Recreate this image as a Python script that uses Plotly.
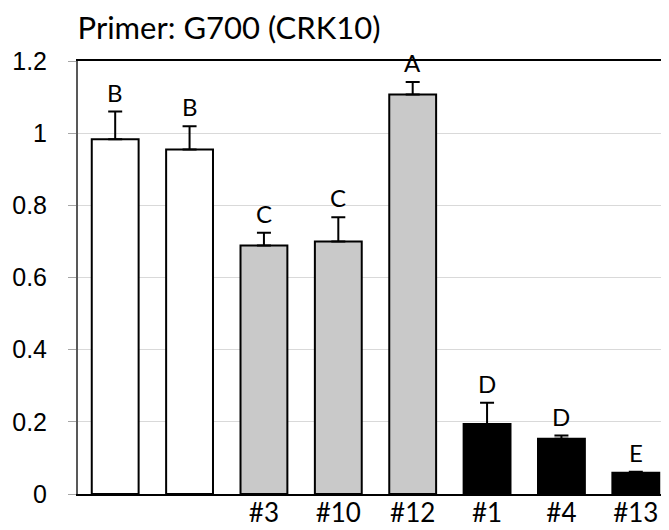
import plotly.graph_objects as go

# ---- data ----
labels = ["", "", "#3", "#10", "#12", "#1", "#4", "#13"]
values = [0.983, 0.955, 0.689, 0.700, 1.107, 0.194, 0.153, 0.059]
errors = [0.077, 0.064, 0.035, 0.067, 0.035, 0.059, 0.009, 0.003]
letters = ["B", "B", "C", "C", "A", "D", "D", "E"]
colors = ["#ffffff", "#ffffff", "#c9c9c9", "#c9c9c9", "#c9c9c9", "#000000", "#000000", "#000000"]
yticks = [0, 0.2, 0.4, 0.6, 0.8, 1.0, 1.2]
yticktext = ["0", "0.2", "0.4", "0.6", "0.8", "1", "1.2"]
title_text = "Primer: G700 (CRK10)"

xs = list(range(len(labels)))

fig = go.Figure()
fig.add_trace(go.Bar(
    x=xs, y=values,
    marker=dict(color=colors, line=dict(color="#000000", width=2)),
    error_y=dict(type="data", array=errors, arrayminus=[0] * len(errors),
                 symmetric=False, color="#000000", thickness=2, width=7),
    width=0.63,
    showlegend=False,
))

for x, v, e, t in zip(xs, values, errors, letters):
    fig.add_annotation(x=x, y=v + e, text=t, showarrow=False,
                       yanchor="bottom", yshift=3,
                       font=dict(family="Lato", size=24, color="#000000"))

fig.update_layout(
    width=669, height=530,
    margin=dict(l=70, r=2, t=53, b=44),
    paper_bgcolor="#ffffff", plot_bgcolor="#ffffff",
    title=dict(text=title_text, xref="container", yref="container",
               x=0.104, xanchor="left", y=1 - 20.5 / 530, yanchor="middle",
               font=dict(family="Lato", size=31, color="#000000")),
    bargap=0.37,
)
fig.update_xaxes(
    range=[-0.5, 7.5], tickmode="array", tickvals=xs, ticktext=labels,
    showline=True, linecolor="#000000", linewidth=2, mirror=True,
    ticks="", showgrid=False, ticklabelstandoff=-5,
    tickfont=dict(family="Lato", size=26, color="#000000"),
)
fig.update_yaxes(
    range=[0, 1.2], tickmode="array", tickvals=yticks, ticktext=yticktext,
    showline=True, linecolor="#595959", linewidth=2, mirror=True,
    ticks="outside", ticklen=8, tickcolor="#a6a6a6", tickwidth=1,
    ticklabelstandoff=16,
    showgrid=True, gridcolor="#d9d9d9", gridwidth=1, zeroline=False,
    tickfont=dict(family="Liberation Sans", size=25, color="#000000"),
)

fig.write_html("out.html")
